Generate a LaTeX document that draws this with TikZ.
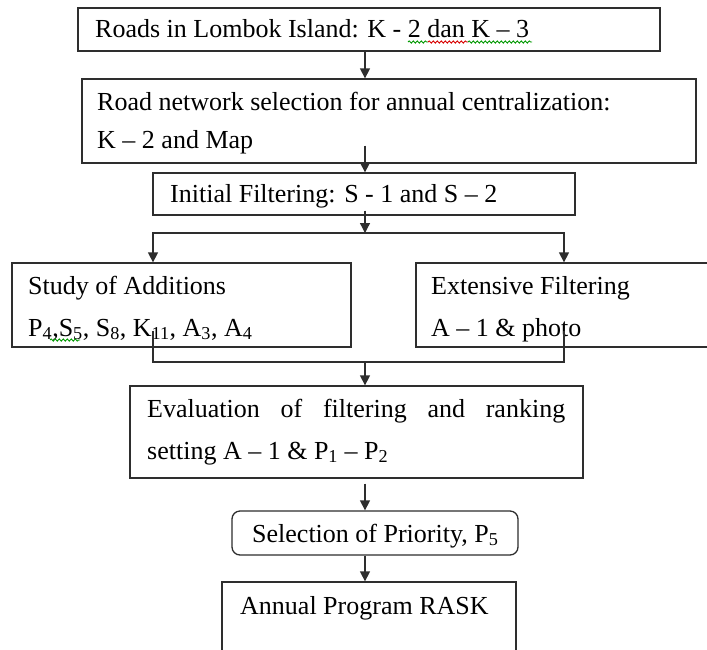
\documentclass[tikz,border=0pt]{standalone}
\usepackage{fontspec}
\setmainfont{Liberation Serif}
\usetikzlibrary{arrows.meta,calc,decorations.pathmorphing}
\begin{document}
\begin{tikzpicture}[x=1pt,y=-1pt,
  font=\fontsize{26}{31}\selectfont,
  box/.style={draw=black!82, line width=1.3pt, inner sep=0pt, anchor=center},
  txt/.style={anchor=base west, inner sep=0pt, text=black},
  link/.style={draw=black!82, line width=1.3pt},
  arr/.style={link, -{Triangle[length=10pt,width=10pt]}},
  wavy/.style={line width=0.9pt, decorate,
    decoration={snake, amplitude=1.1pt, segment length=4pt}},
  spellg/.style={wavy, draw=green!60!black},
  spellr/.style={wavy, draw=red!85!black}]

\fill[white] (0,0) rectangle (707,649);
\useasboundingbox (0,0) rectangle (707,649);

% reference axes for the connectors
\coordinate (axis) at (365,0);
\coordinate (lx) at (153,0);
\coordinate (rx) at (564,0);
\coordinate (split) at (365,233);
\coordinate (join) at (365,362);

% boxes
\node[box, minimum width=582pt, minimum height=43pt] (b1) at (369,29.5) {};
\node[box, minimum width=614pt, minimum height=84pt] (b2) at (389,121) {};
\node[box, minimum width=422pt, minimum height=42pt] (b3) at (364,194) {};
\node[box, minimum width=339pt, minimum height=84pt] (b4) at (181.5,305) {};
\node[box, minimum width=296pt, minimum height=84pt] (b5) at (564,305) {};
\node[box, minimum width=453pt, minimum height=92pt] (b6) at (356.5,432) {};
\node[box, rounded corners=8pt, minimum width=286pt, minimum height=44pt] (b7) at (375,533) {};
\node[box, minimum width=294pt, minimum height=78pt] (b8) at (369,621) {};

% texts
\node[txt] (t1) at (95,37) {Roads in Lombok Island: K - 2 dan K – 3};
\node[txt] (t2a) at (97,110) {Road network selection for annual centralization:};
\node[txt] (t2b) at (97,148) {K – 2 and Map};
\node[txt] (t3) at (170,202) {Initial Filtering: S - 1 and S – 2};
\node[txt] (t4a) at (28,294) {Study of Additions};
\node[txt] (t4b) at (28,336) {P\textsubscript{4},S\textsubscript{5}, S\textsubscript{8}, K\textsubscript{11}, A\textsubscript{3}, A\textsubscript{4}};
\node[txt] (t5a) at (431,294) {Extensive Filtering};
\node[txt] (t5b) at (431,336) {A – 1 \& photo};
\node[txt] (t6a) at (147,417) {\makebox[418pt][s]{Evaluation of filtering and ranking}};
\node[txt] (t6b) at (147,459) {setting A – 1 \& P\textsubscript{1} – P\textsubscript{2}};
\node[txt] (t7) at (252,542) {Selection of Priority, P\textsubscript{5}};
\node[txt] (t8) at (240,614) {Annual Program RASK};

% spell-check marks
\draw[spellg] (408,42) -- (428,42);
\draw[spellr] (428,42) -- (468,42);
\draw[spellg] (468,42) -- (532,42);
\draw[spellg] (50,340) -- (80,340);

% connectors
\draw[arr] (b1.south -| axis) -- (b2.north -| axis);
\draw[arr] ($(b2.south -| axis)+(0,-18)$) -- (b3.north -| axis);
\draw[arr] ($(b3.south -| axis)+(0,-5)$) -- (split);
\draw[arr] (split) -| (b4.north -| lx);
\draw[arr] (split) -| (b5.north -| rx);
\draw[link] ($(b4.south -| lx)+(0,-17)$) |- (join);
\draw[link] ($(b5.south -| rx)+(0,-17)$) |- (join);
\draw[arr] (join) -- (b6.north -| axis);
\draw[arr] ($(b6.south -| axis)+(0,5)$) -- (b7.north -| axis);
\draw[arr] (b7.south -| axis) -- (b8.north -| axis);
\end{tikzpicture}
\end{document}
